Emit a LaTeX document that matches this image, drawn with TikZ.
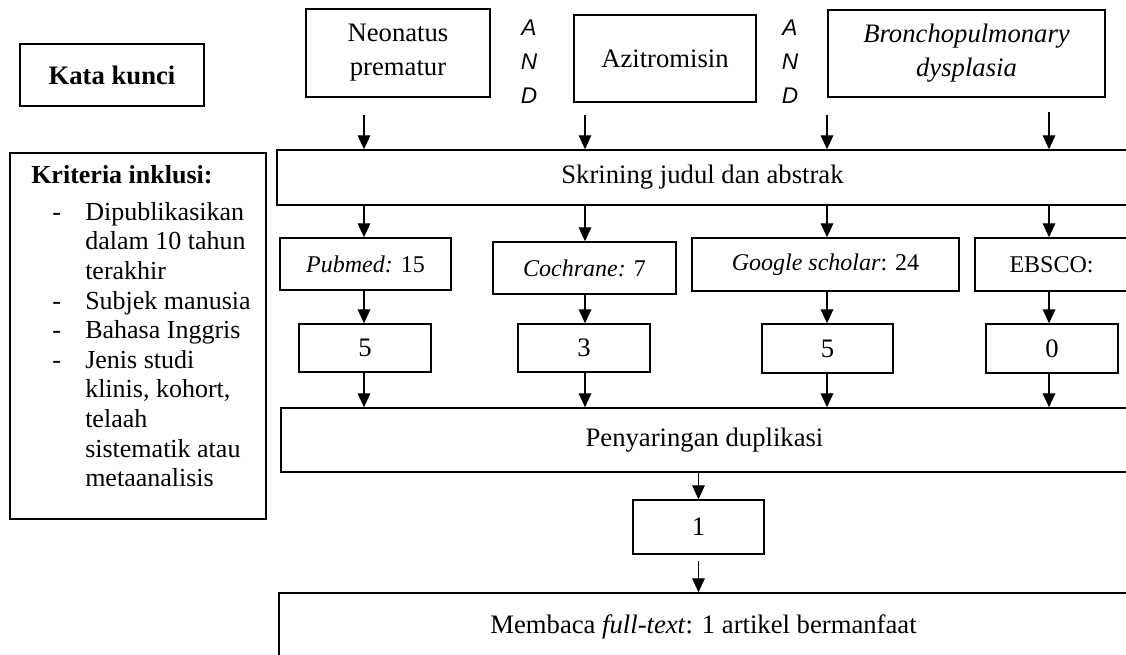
\documentclass[tikz,border=0pt]{standalone}
\usepackage{fontspec}
\setmainfont{Liberation Serif}
\newfontfamily\andfont{Liberation Sans}
\usetikzlibrary{arrows.meta}
\usetikzlibrary{positioning}
\tikzset{arrow/.style = {-{Triangle[length = 10.5pt, width = 9.5pt]}, line width = 0.9pt}}
\tikzset{box/.style = {draw, line width = 1.1pt, inner sep = 0pt, align = center,
  font = \fontsize{20}{25.5}\selectfont}}
\tikzset{dbbox/.style = {box, font = \fontsize{18}{22}\selectfont}}
\tikzset{andlbl/.style = {inner sep = 0pt, align = center,
  font = \andfont\itshape\fontsize{17}{25.5}\selectfont}}

\begin{document}
\begin{tikzpicture}[x=0.75pt,y=-0.75pt]
\path[use as bounding box] (0,0) rectangle (1126,654);
\clip (0,0) rectangle (1126,654);

% kata kunci
\node[box, minimum width = 138pt, minimum height = 46.5pt] (kunci) at (112,75) {\textbf{Kata kunci}};
\node[box, minimum width = 138pt, minimum height = 66pt] (neo) at (398,53) {Neonatus\\prematur};
\node[andlbl] (and1) at (529,62) {A\\N\\D};
\node[box, minimum width = 136.5pt, minimum height = 65.25pt] (azi) at (665,58.5) {Azitromisin};
\node[andlbl] (and2) at (790,62) {A\\N\\D};
\node[box, minimum width = 207.75pt, minimum height = 65.25pt] (bpd) at (966.5,53.5) {\textit{Bronchopulmonary}\\\textit{dysplasia}};

% kriteria inklusi
\node[box, minimum width = 192pt, minimum height = 274.5pt] (krit) at (138,336) {};
\node[anchor = north west, inner sep = 0pt, font = \fontsize{19.5}{22.2}\selectfont] (kritxt) at (31,163) {%
\begin{tabular}{@{}p{40.5pt}@{}l@{}}
\multicolumn{2}{@{}l@{}}{\textbf{Kriteria inklusi:}}\\[5pt]
\hspace*{15.75pt}- & Dipublikasikan\\
 & dalam 10 tahun\\
 & terakhir\\
\hspace*{15.75pt}- & Subjek manusia\\
\hspace*{15.75pt}- & Bahasa Inggris\\
\hspace*{15.75pt}- & Jenis studi\\
 & klinis, kohort,\\
 & telaah\\
 & sistematik atau\\
 & metaanalisis
\end{tabular}};

% skrining
\node[box, minimum width = 638.25pt, minimum height = 41.25pt] (skr) at (702.5,177.5) {Skrining judul dan abstrak};
\coordinate (s1) at (364,115);
\coordinate (s2) at (585,115);
\coordinate (s3) at (827,115);
\coordinate (s4) at (1049,112);
\draw[arrow] (s1) -- (s1 |- skr.north);
\draw[arrow] (s2) -- (s2 |- skr.north);
\draw[arrow] (s3) -- (s3 |- skr.north);
\draw[arrow] (s4) -- (s4 |- skr.north);

% database
\node[dbbox, minimum width = 128.25pt, minimum height = 39pt] (pub) at (365.5,264) {\textit{Pubmed:} 15};
\node[dbbox, minimum width = 137.25pt, minimum height = 39pt] (coc) at (584.5,268) {\textit{Cochrane:} 7};
\node[dbbox, minimum width = 200.25pt, minimum height = 39.75pt] (goo) at (825.5,264.5) {\textit{Google scholar}: 24};
\node[dbbox, minimum width = 114.75pt, minimum height = 39.75pt] (ebs) at (1051.5,264.5) {EBSCO:};
\draw[arrow] (s1 |- skr.south) -- (s1 |- pub.north);
\draw[arrow] (s2 |- skr.south) -- (s2 |- coc.north);
\draw[arrow] (s3 |- skr.south) -- (s3 |- goo.north);
\draw[arrow] (s4 |- skr.south) -- (s4 |- ebs.north);

% hasil
\node[box, minimum width = 99pt, minimum height = 36pt] (pubn) at (365,348) {5};
\node[box, minimum width = 99pt, minimum height = 36pt] (cocn) at (584,348) {3};
\node[box, minimum width = 98.25pt, minimum height = 36.75pt] (goon) at (827.5,348.5) {5};
\node[box, minimum width = 99pt, minimum height = 36.75pt] (ebsn) at (1052,348.5) {0};
\draw[arrow] (s1 |- pub.south) -- (s1 |- pubn.north);
\draw[arrow] (s2 |- coc.south) -- (s2 |- cocn.north);
\draw[arrow] (s3 |- goo.south) -- (s3 |- goon.north);
\draw[arrow] (s4 |- ebs.south) -- (s4 |- ebsn.north);

% duplikasi
\node[box, minimum width = 635.25pt, minimum height = 48pt] (dup) at (704.5,440) {Penyaringan duplikasi};
\draw[arrow] (s1 |- pubn.south) -- (s1 |- dup.north);
\draw[arrow] (s2 |- cocn.south) -- (s2 |- dup.north);
\draw[arrow] (s3 |- goon.south) -- (s3 |- dup.north);
\draw[arrow] (s4 |- ebsn.south) -- (s4 |- dup.north);

\node[box, minimum width = 98.25pt, minimum height = 40.5pt] (one) at (698.5,527) {1};
\node[box, minimum width = 636.75pt, minimum height = 51pt] (mem) at (703.5,627) {Membaca \textit{full-text}: 1 artikel bermanfaat};
\draw[arrow] (one.north |- dup.south) -- (one.north);
\draw[arrow] ([yshift = -4.5pt]one.south) -- (one.south |- mem.north);
\end{tikzpicture}
\end{document}
